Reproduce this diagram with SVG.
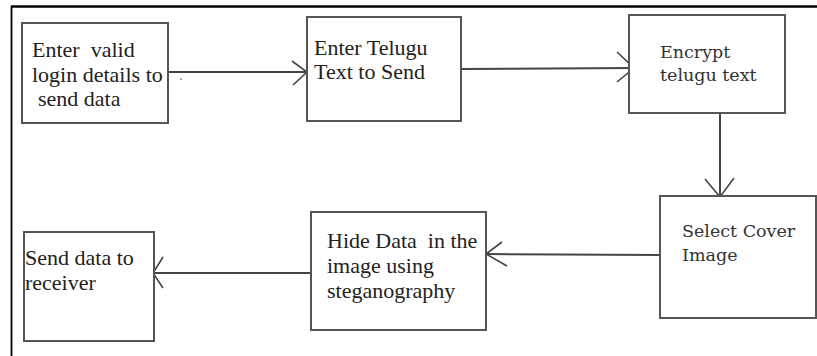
<svg xmlns="http://www.w3.org/2000/svg" width="817" height="356" viewBox="0 0 817 356">
  <style>
    .frame { stroke: #000; fill: none; }
    .box { fill: #fff; stroke: #555; stroke-width: 2; }
    .wire { fill: none; stroke: #444; stroke-width: 2; stroke-linejoin: miter; }
    .head { fill: none; stroke: #444; stroke-width: 1.6; }
    .t { font-family: "Liberation Serif", "Times New Roman", serif; font-size: 22px; fill: #222; }
    .s { font-family: "DejaVu Serif", serif; font-size: 17.5px; fill: #333; }
  </style>
  <rect width="817" height="356" fill="#fff"/>

  <!-- page frame: top and left rules -->
  <line class="frame" x1="11" y1="6.5" x2="817" y2="6.5" stroke-width="2.5"/>
  <line class="frame" x1="11.5" y1="6" x2="11.5" y2="356" stroke-width="1.8"/>

  <g id="connectors">
    <line class="wire" x1="169" y1="72" x2="307" y2="72"/>
    <polyline class="head" points="292,61 307,72 293,85"/>
    <circle cx="181" cy="79" r="0.9" fill="#888"/>

    <line class="wire" x1="461" y1="69" x2="634" y2="68"/>
    <polyline class="head" points="617,52 634,68 617,82"/>

    <line class="wire" x1="720" y1="114" x2="720" y2="197"/>
    <polyline class="head" points="705,179 720,197 734,178"/>

    <line class="wire" x1="660" y1="255" x2="486" y2="254"/>
    <polyline class="head" points="502,242 486,254 507,266"/>

    <line class="wire" x1="311" y1="273" x2="153" y2="273"/>
    <polyline class="head" points="163,257 153,273 163,288"/>
  </g>

  <g id="login">
    <rect class="box" x="22" y="23" width="146" height="100"/>
    <text class="t" xml:space="preserve" x="32" y="57">Enter  valid</text>
    <text class="t" x="32" y="82">login details to</text>
    <text class="t" x="38" y="106">send data</text>
  </g>

  <g id="enter-text">
    <rect class="box" x="307" y="17" width="154" height="104"/>
    <text class="t" x="314" y="55">Enter Telugu</text>
    <text class="t" x="314" y="79">Text to Send</text>
  </g>

  <g id="encrypt">
    <rect class="box" x="629" y="15" width="156" height="98"/>
    <text class="s" x="660" y="58">Encrypt</text>
    <text class="s" x="660" y="81">telugu text</text>
  </g>

  <g id="cover-image">
    <rect class="box" x="660" y="196" width="156" height="122"/>
    <text class="s" x="682" y="237">Select Cover</text>
    <text class="s" x="682" y="261">Image</text>
  </g>

  <g id="hide-data">
    <rect class="box" x="311" y="212" width="175" height="118"/>
    <text class="t" xml:space="preserve" x="327" y="248">Hide Data  in the</text>
    <text class="t" x="327" y="273">image using</text>
    <text class="t" x="327" y="298">steganography</text>
  </g>

  <g id="send">
    <rect class="box" x="24" y="232" width="130" height="109"/>
    <text class="t" x="25" y="265">Send data to</text>
    <text class="t" x="25" y="290">receiver</text>
  </g>
</svg>
